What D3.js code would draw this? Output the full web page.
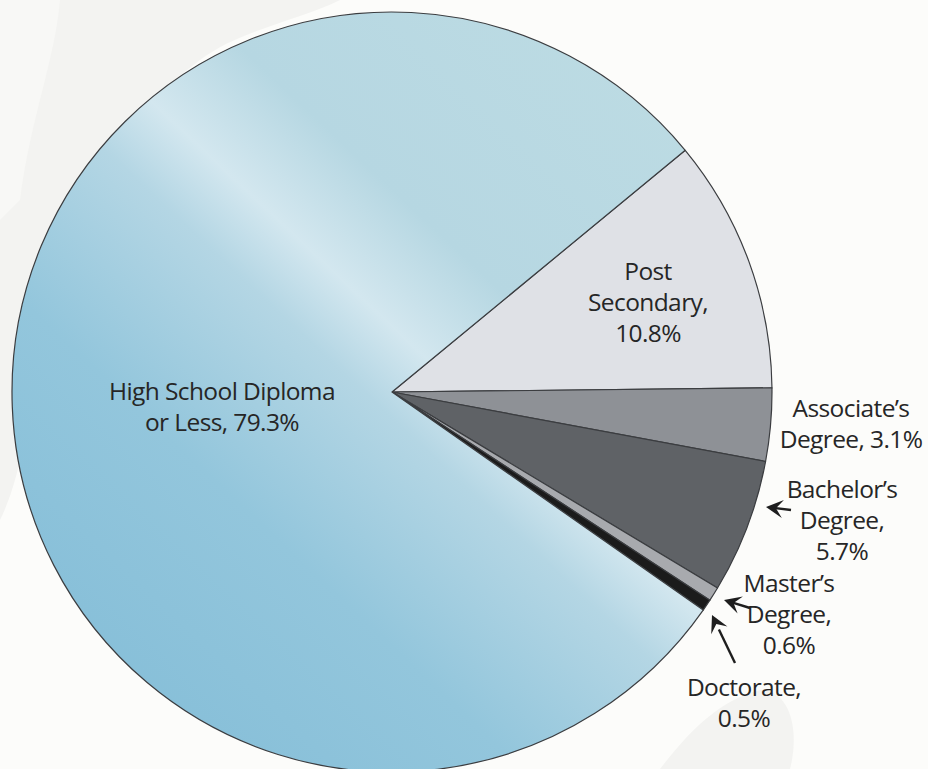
<!DOCTYPE html>
<html lang="en">
<head>
    <meta charset="UTF-8">
    <title>Educational attainment</title>
    <script src="https://cdn.jsdelivr.net/npm/d3@7"></script>
    <style>
        body{ margin:0; background:#fcfcfa; }
        svg{ display:block; }
        text{ font-family:"Open Sans", sans-serif; fill:#262626; }
    </style>
</head>
<body>
    <div class="container"></div>
    <script>
        // slices, clockwise starting from the top edge of Post Secondary
        const categories = ["Post Secondary", "Associate's Degree", "Bachelor's Degree", "Master's Degree", "Doctorate", "High School Diploma or Less"]
        const shares = [10.8, 3.1, 5.7, 0.6, 0.5, 79.3]
        const fills = ["#dfe1e6", "#8e9196", "#5f6266", "#a8aaae", "#1b1b1b", "url(#hsGrad)"]

        // label lines and where they go
        const labelLines = [
            ["Post", "Secondary,", "10.8%"],
            ["Associate\u2019s", "Degree, 3.1%"],
            ["Bachelor\u2019s", "Degree,", "5.7%"],
            ["Master\u2019s", "Degree,", "0.6%"],
            ["Doctorate,", "0.5%"],
            ["High School Diploma", "or Less, 79.3%"]
        ]
        const labelPos = [[648, 280], [851, 417], [842, 498], [789, 592], [744, 696], [222, 400]]
        // arrows: [tailX, tailY, tipX, tipY] or null
        const arrows = [null, null, [791, 510, 766, 507], [750, 608, 724, 600], [735, 663, 712, 615], null]

        const width = 928, height = 769
        const cx = 392, cy = 392, radius = 380

        const svg = d3.select('.container').append("svg")
            .attr("width", width).attr("height", height)

        // faint backdrop shapes
        const bg = svg.append("g").attr("fill", "#f3f3f1")
        bg.append("path").attr("d", "M0,0 L340,0 C300,20 240,30 200,60 C120,120 60,200 40,320 C30,420 20,480 0,520 Z")
        bg.append("path").attr("d", "M660,769 C690,730 720,700 760,690 C790,690 800,730 790,769 Z")
        bg.append("path").attr("d", "M0,0 L60,0 C55,60 30,120 20,200 L0,220 Z").attr("fill", "#f8f8f6")

        const defs = svg.append("defs")
        const grad = defs.append("linearGradient")
            .attr("id", "hsGrad")
            .attr("gradientUnits", "userSpaceOnUse")
            .attr("x1", 680).attr("y1", 90)
            .attr("x2", 110).attr("y2", 700)
        const stops = [[0, "#bcdbe3"], [0.3, "#b6d7e2"], [0.42, "#d3e7ef"], [0.5, "#b4d6e4"], [0.7, "#93c6dc"], [1, "#85bed8"]]
        grad.selectAll("stop").data(stops).join("stop")
            .attr("offset", d => d[0])
            .attr("stop-color", d => d[1])

        const pie = d3.pie()
            .sort(null)
            .startAngle(50.5 * Math.PI / 180)
            .endAngle(50.5 * Math.PI / 180 + 2 * Math.PI)
            .value(d => d)

        const arc = d3.arc().innerRadius(0).outerRadius(radius)

        const g = svg.append("g").attr("transform", `translate(${cx},${cy})`)

        g.selectAll("path").data(pie(shares)).join("path")
            .attr("d", arc)
            .attr("fill", (d, i) => fills[i])
            .attr("stroke", "#3b3d40")
            .attr("stroke-width", 1.2)
            .attr("stroke-linejoin", "round")

        // labels
        const lineH = 31
        const labels = svg.append("g")
        labelLines.forEach((lines, i) => {
            const t = labels.append("text")
                .attr("x", labelPos[i][0])
                .attr("y", labelPos[i][1])
                .attr("text-anchor", "middle")
                .style("font-size", "24.5px")
                .attr("letter-spacing", "-0.6px")
                .attr("data-category", categories[i])
            lines.forEach((ln, j) => {
                t.append("tspan")
                    .attr("x", labelPos[i][0])
                    .attr("dy", j === 0 ? 0 : lineH)
                    .text(ln)
            })
        })

        // arrows
        const arrowG = svg.append("g")
        arrows.forEach(a => {
            if(!a) return
            const [x0, y0, x1, y1] = a
            const ang = Math.atan2(y1 - y0, x1 - x0) * 180 / Math.PI
            arrowG.append("line")
                .attr("x1", x0).attr("y1", y0)
                .attr("x2", x1 + (x0 - x1) * 0.3).attr("y2", y1 + (y0 - y1) * 0.3)
                .attr("stroke", "#1e1e1e").attr("stroke-width", 2.4)
            arrowG.append("path")
                .attr("d", "M0,0 L-17,-9 L-10,0 L-17,9 Z")
                .attr("fill", "#1e1e1e")
                .attr("transform", `translate(${x1},${y1}) rotate(${ang})`)
        })
    </script>
</body>
</html>
